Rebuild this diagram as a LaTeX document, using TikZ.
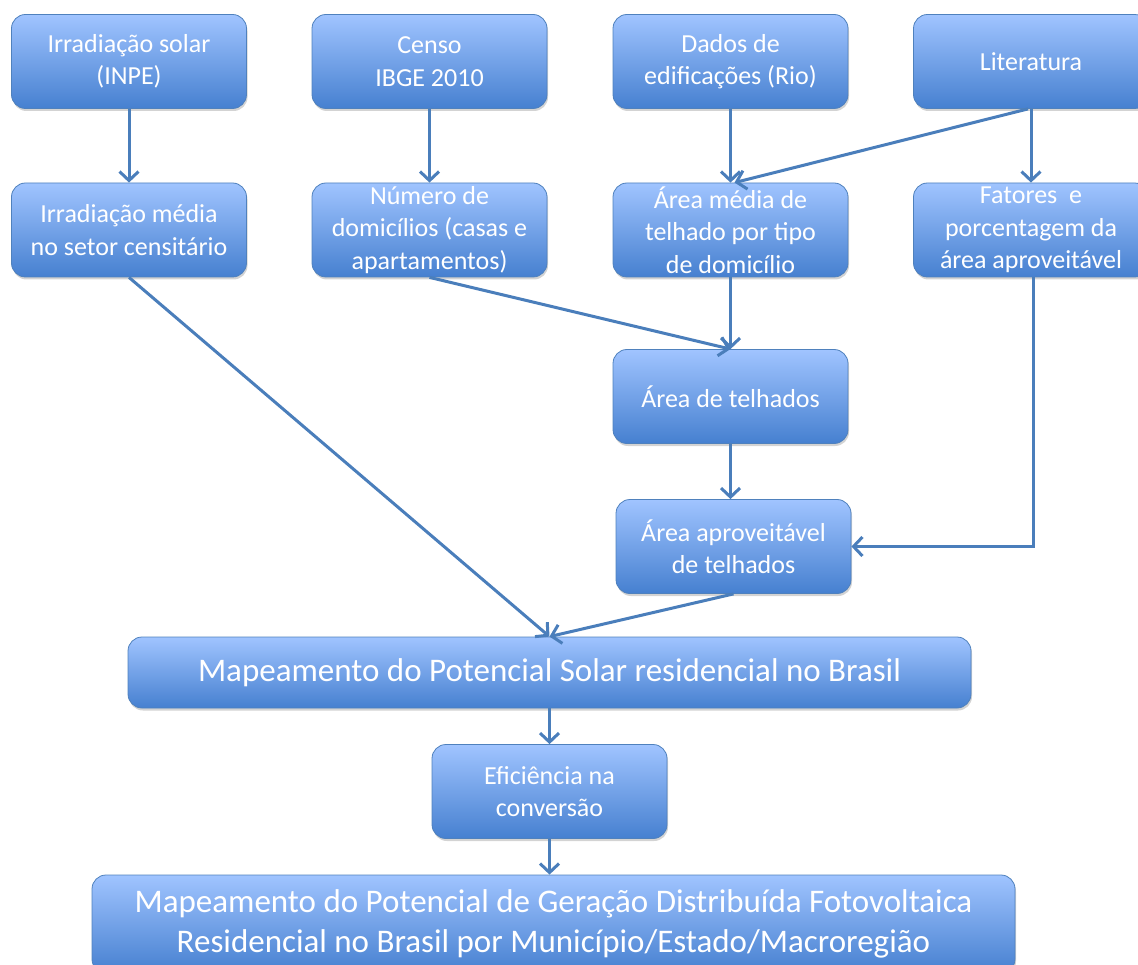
\documentclass[tikz,border=0pt]{standalone}
\usepackage{fontspec}
\setmainfont{Carlito}
\usetikzlibrary{arrows.meta,shadows}
\definecolor{boxtop}{RGB}{160,196,255}
\definecolor{boxbot}{RGB}{70,128,208}
\definecolor{boxedge}{RGB}{79,129,189}
\definecolor{arrowblue}{RGB}{74,126,187}
\tikzstyle{box} = [rectangle, rounded corners=14pt, draw=boxedge, line width=0.8pt,
  top color=boxtop, bottom color=boxbot, text=white, align=center,
  minimum width=235pt, minimum height=94pt, inner sep=2pt,
  font=\fontsize{26}{32.5}\selectfont,
  drop shadow={opacity=0.35, shadow xshift=1pt, shadow yshift=-2.5pt}]
\tikzstyle{wide box} = [box, font=\fontsize{33}{40}\selectfont]
\tikzstyle{edge} = [draw=arrowblue, line width=3pt,
  -{Straight Barb[length=9pt,width=19pt]}]

\begin{document}
\begin{tikzpicture}[x=1pt,y=-1pt]
  \useasboundingbox (0,0) rectangle (1138,965);
  \begin{scope}
  \clip (0,0) rectangle (1138,965);
  % fontes de dados
  \node[box] (irr) at (129,61.5) {Irradiação solar\\(INPE)};
  \node[box] (censo) at (429.5,61.5) {Censo\\IBGE 2010};
  \node[box] (dados) at (730.5,61.5) {Dados de\\edificações (Rio)};
  \node[box] (lit) at (1031,61.5) {Literatura};
  % dados intermediarios
  \node[box] (irrm) at (129,230) {Irradiação média\\no setor censitário};
  \node[box] (dom) at (429.5,230) {Número de\\domicílios (casas e\\apartamentos)};
  \node[box] (amedia) at (730.5,230) {Área média de\\telhado por tipo\\de domicílio};
  \node[box] (fat) at (1031,230) {Fatores~ e\\porcentagem da\\área aproveitável};
  \node[box] (tel) at (730.5,396.5) {Área de telhados};
  \node[box] (aprov) at (733.5,546.5) {Área aproveitável\\de telhados};
  % resultados
  \node[wide box, minimum width=843pt, minimum height=71pt] (mapa) at (549.5,672.5)
    {Mapeamento do Potencial Solar residencial no Brasil};
  \node[box] (efic) at (549.5,791.5) {Eficiência na\\conversão};
  \node[wide box, minimum width=923pt, minimum height=98pt] (geracao) at (553.5,924)
    {Mapeamento do Potencial de Geração Distribuída Fotovoltaica\\Residencial no Brasil por Município/Estado/Macroregião};

  \foreach \source/\sink in {irr/irrm, censo/dom, dados/amedia, lit/fat, dom/tel,
      amedia/tel, irrm/mapa, aprov/mapa, mapa/efic} {
    \path[edge] (\source.south) -- (\sink.north);
  }
  \path[edge] (tel.south) -- (tel.south |- aprov.north);
  \path[edge] (efic.south) -- (efic.south |- geracao.north);
  \path[edge] ([xshift=-3pt]lit.south) -- ([xshift=4pt]amedia.north);
  \path[edge] ([xshift=2pt]fat.south) |- (aprov.east);
  \end{scope}
\end{tikzpicture}
\end{document}
